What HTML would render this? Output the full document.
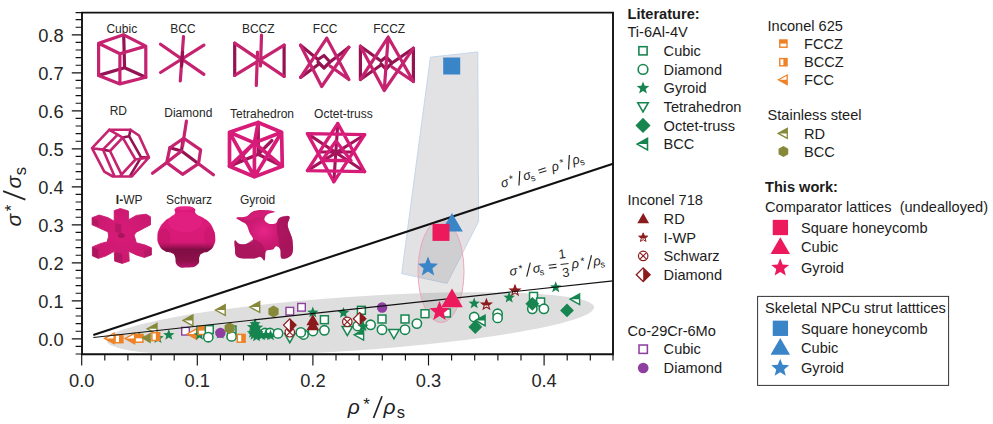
<!DOCTYPE html>
<html><head><meta charset="utf-8"><title>chart</title>
<style>
html,body{margin:0;padding:0;background:#fff;}
svg{display:block;font-family:"Liberation Sans",sans-serif;}
.tk{font-size:18.3px;fill:#262626;}
.lb{font-size:12px;fill:#262626;text-anchor:middle;}
.lg{font-size:14.6px;fill:#1c1c1c;}
.lgb{font-size:14.6px;fill:#1c1c1c;font-weight:bold;}
.ax{font-size:21px;font-style:italic;fill:#222;}
.fm{font-size:12px;font-style:italic;fill:#222;}
</style></head><body>
<svg width="993" height="424" viewBox="0 0 993 424">
<defs>
<g id="gsq"><rect x="-3.95" y="-3.95" width="7.9" height="7.9" fill="#fff" stroke="#16854f" stroke-width="1.5"/></g>
<g id="gci"><circle r="4.65" fill="#fff" stroke="#16854f" stroke-width="1.55"/></g>
<g id="gst"><polygon points="0.00,-6.00 1.52,-2.09 5.71,-1.85 2.45,0.80 3.53,4.85 0.00,2.58 -3.53,4.85 -2.45,0.80 -5.71,-1.85 -1.52,-2.09" fill="#16854f"/></g>
<g id="gtd"><polygon points="-5.3,-4.1 5.3,-4.1 0,5.1" fill="#fff" stroke="#16854f" stroke-width="1.5" stroke-linejoin="miter"/></g>
<g id="gdi"><polygon points="0,-6.9 6.9,0 0,6.9 -6.9,0" fill="#16854f"/></g>
<g id="gbc"><polygon points="-5.4,0 4.1,-5.3 4.1,5.3" fill="#fff"/><polygon points="-5.4,0 4.1,-5.3 4.1,0" fill="#16854f"/><polygon points="-5.4,0 4.1,-5.3 4.1,5.3" fill="none" stroke="#16854f" stroke-width="1.4"/></g>
<g id="ofz"><rect x="-3.9" y="-3.9" width="7.8" height="7.8" fill="#fff"/><rect x="-3.9" y="-3.9" width="7.8" height="3.9" fill="#ee8227"/><rect x="-3.9" y="-3.9" width="7.8" height="7.8" fill="none" stroke="#ee8227" stroke-width="1.5"/></g>
<g id="obz"><rect x="-3.9" y="-3.9" width="7.8" height="7.8" fill="#fff"/><rect x="0" y="-3.9" width="3.9" height="7.8" fill="#ee8227"/><rect x="-3.9" y="-3.9" width="7.8" height="7.8" fill="none" stroke="#ee8227" stroke-width="1.5"/></g>
<g id="ofc"><polygon points="-5.4,0 4.1,-5.2 4.1,5.2" fill="#fff"/><polygon points="-5.4,0 4.1,0 4.1,5.2" fill="#ee8227"/><polygon points="-5.4,0 4.1,-5.2 4.1,5.2" fill="none" stroke="#ee8227" stroke-width="1.4"/></g>
<g id="srd"><polygon points="-5.6,0 4.2,-5.4 4.2,5.4" fill="#fff"/><polygon points="-5.6,0 4.2,-5.4 4.2,0" fill="#87893a"/><polygon points="-5.6,0 4.2,-5.4 4.2,5.4" fill="none" stroke="#87893a" stroke-width="1.4"/></g>
<g id="sbc"><polygon points="0.00,-5.90 5.11,-2.95 5.11,2.95 0.00,5.90 -5.11,2.95 -5.11,-2.95" fill="#87893a"/></g>
<g id="psq"><rect x="-3.8" y="-3.8" width="7.6" height="7.6" fill="#fff" stroke="#8e3f9f" stroke-width="1.4"/></g>
<g id="pci"><circle r="5.2" fill="#8e3f9f"/></g>
<g id="rtr"><polygon points="0,-6.3 6.4,4.8 -6.4,4.8" fill="#8a1a1c"/></g>
<clipPath id="th"><rect x="-8" y="-8" width="16" height="8.9"/></clipPath>
<g id="rst"><polygon points="0.00,-5.40 1.35,-1.86 5.14,-1.67 2.19,0.71 3.17,4.37 0.00,2.30 -3.17,4.37 -2.19,0.71 -5.14,-1.67 -1.35,-1.86" fill="#fff" stroke="#8a1a1c" stroke-width="1.1"/><polygon points="0.00,-5.40 1.35,-1.86 5.14,-1.67 2.19,0.71 3.17,4.37 0.00,2.30 -3.17,4.37 -2.19,0.71 -5.14,-1.67 -1.35,-1.86" fill="#8a1a1c" clip-path="url(#th)"/></g>
<g id="rcx"><circle r="4.7" fill="#fff" stroke="#8a1a1c" stroke-width="1.2"/><path d="M-3.3,-3.3L3.3,3.3M-3.3,3.3L3.3,-3.3" stroke="#8a1a1c" stroke-width="1.1"/></g>
<g id="rdi"><polygon points="0,-6.2 6.3,0 0,6.2 -6.3,0" fill="#fff"/><polygon points="0,-6.2 6.3,0 0,6.2" fill="#8a1a1c"/><polygon points="0,-6.2 6.3,0 0,6.2 -6.3,0" fill="none" stroke="#8a1a1c" stroke-width="1.2"/></g>
<g id="ksq"><rect x="-8.5" y="-8.5" width="17" height="17" fill="#ec1a5d"/></g>
<g id="ktr"><polygon points="0,-11 10.8,7.6 -10.8,7.6" fill="#ec1a5d"/></g>
<g id="kst"><polygon points="0.00,-10.50 2.70,-3.72 9.99,-3.24 4.37,1.42 6.17,8.49 0.00,4.60 -6.17,8.49 -4.37,1.42 -9.99,-3.24 -2.70,-3.72" fill="#ec1a5d"/></g>
<g id="bsq"><rect x="-8.5" y="-8.5" width="17" height="17" fill="#3a84c8"/></g>
<g id="btr"><polygon points="0,-11 10.8,7.6 -10.8,7.6" fill="#3a84c8"/></g>
<g id="bst"><polygon points="0.00,-10.50 2.70,-3.72 9.99,-3.24 4.37,1.42 6.17,8.49 0.00,4.60 -6.17,8.49 -4.37,1.42 -9.99,-3.24 -2.70,-3.72" fill="#3a84c8"/></g>
<radialGradient id="gI" cx="0.5" cy="0.45" r="0.6"><stop offset="0" stop-color="#d81b78"/><stop offset="1" stop-color="#c8196e"/></radialGradient>
<linearGradient id="gS" x1="0" y1="0" x2="0" y2="1"><stop offset="0" stop-color="#dd1a7a"/><stop offset="0.58" stop-color="#d81a77"/><stop offset="0.64" stop-color="#b01360"/><stop offset="0.70" stop-color="#800e44"/><stop offset="0.88" stop-color="#8c1049"/><stop offset="1" stop-color="#b5166a"/></linearGradient>
<radialGradient id="gG" cx="0.5" cy="0.42" r="0.45"><stop offset="0" stop-color="#e8258a"/><stop offset="0.5" stop-color="#cf1b74"/><stop offset="1" stop-color="#bd1768"/></radialGradient>
<clipPath id="cp"><rect x="82.0" y="12.6" width="531.0" height="341.7"/></clipPath>
</defs>
<rect width="993" height="424" fill="#fff"/>
<g clip-path="url(#cp)">
<ellipse cx="350.4" cy="323.9" rx="244.3" ry="27" transform="rotate(-3.94 350.4 323.9)" fill="#dedede"/>
<polygon points="430.4,57.2 477.8,51.9 478.6,221.5 447,283.4 401.7,273.6" fill="#e2e2e4" stroke="#bfd4eb" stroke-width="0.9"/>
<ellipse cx="441" cy="271.3" rx="23" ry="51.3" fill="#8c8c8c" fill-opacity="0.22" stroke="#f0a3b8" stroke-width="1"/>
</g>
<!-- lattices -->
<path stroke="#951352" stroke-width="3.2" stroke-linecap="round" stroke-linejoin="round" fill="none" d="M123.7,34.8L124.6,67.8M98.6,75.4L124.6,67.8L145.8,77.3"/>
<path stroke="#c5226f" stroke-width="3.2" stroke-linecap="round" stroke-linejoin="round" fill="none" d="M123.7,34.8L98.6,43.3L119.9,53.7L145.8,46.1ZM98.6,43.3V75.4L119.9,83.9L145.8,77.3V46.1M119.9,53.7V83.9"/>
<path stroke="#c5226f" stroke-width="3.2" stroke-linecap="round" stroke-linejoin="round" fill="none" d="M183.5,36.7L180.3,81M160.5,44.2L203.9,74.4M203.9,45.2L160.5,72.5"/>
<path stroke="#951352" stroke-width="3.2" stroke-linecap="round" stroke-linejoin="round" fill="none" d="M182.6,52L181.6,66" stroke-width="3"/>
<path stroke="#951352" stroke-width="3.2" stroke-linecap="round" stroke-linejoin="round" fill="none" d="M234.7,43.2V75.4M284.1,45.2V76.4"/>
<path stroke="#c5226f" stroke-width="3.2" stroke-linecap="round" stroke-linejoin="round" fill="none" d="M234.7,43.2L284.1,76.4M234.7,75.4L284.1,45.2M261.5,35.1L260.5,66M257.5,52L256.3,85.5"/>
<path stroke="#951352" stroke-width="3.2" stroke-linecap="round" stroke-linejoin="round" fill="none" d="M300.6,45.2L318,59.5L324,55.5L330,62M300.6,77.4L319,64M348.9,47.2L330,62L324,68L318,62"/>
<path stroke="#c5226f" stroke-width="3.2" stroke-linecap="round" stroke-linejoin="round" fill="none" d="M326.8,38.2L300.6,77.4M326.8,38.2L348.9,79.5M321.7,86.5L300.6,45.2M321.7,86.5L348.9,47.2M348.9,79.5L330,66"/>
<path stroke="#951352" stroke-width="3.2" stroke-linecap="round" stroke-linejoin="round" fill="none" d="M360.4,46.2V79.5M413.4,48.2V81.5M360.4,46.2L381,61L386,57L392,63M360.4,79.5L381,65M413.4,48.2L392,63L386,69L381,64"/>
<path stroke="#c5226f" stroke-width="3.2" stroke-linecap="round" stroke-linejoin="round" fill="none" d="M388.2,37.2L360.4,79.5M388.2,37.2L413.4,81.5M384.2,90.5L360.4,46.2M384.2,90.5L413.4,48.2M413.4,81.5L392,67M388.2,37.2L384.2,90.5"/>
<path stroke="#951352" stroke-width="2.6" stroke-linecap="round" stroke-linejoin="round" fill="none" d="M130.5,129.8L129.1,136.2L141.1,157.4L148.9,157.4M129.1,136.2L122.7,137.6M141.1,157.4L130.5,175.1M110.0,151.0L102.9,149.6"/>
<path stroke="#c5226f" stroke-width="2.6" stroke-linecap="round" stroke-linejoin="round" fill="none" d="M109.2,129.8L130.5,129.8L139.0,135.5L148.9,157.4L131.9,176.5L112.8,176.5L104.3,171.6L92.0,148.2L109.2,129.8M92.0,148.2L102.9,149.6L117.7,134.7L109.2,129.8M102.9,149.6L114.2,175.5M117.7,134.7L122.7,137.6L135.5,159.5L148.9,157.4M135.5,159.5L120.3,175.8M122.7,137.6L110.0,151.0L121.3,174.1"/>
<path stroke="#951352" stroke-width="3.2" stroke-linecap="round" stroke-linejoin="round" fill="none" d="M169.9,147.7L181.5,151L198.5,163.7M181.5,151L183,139"/>
<path stroke="#c5226f" stroke-width="3.2" stroke-linecap="round" stroke-linejoin="round" fill="none" d="M186.4,121.2L182.6,146M169.9,147.7L183.7,138.2L200.6,149.9L198.5,163.7L182.6,174.3L166.7,162.6ZM166.7,162.6L152.5,173.2M198.5,163.7L213.4,174.7M166.7,162.6L181.5,151"/>
<path stroke="#a3145a" stroke-width="3.4" stroke-linecap="round" stroke-linejoin="round" fill="none" d="M258.2,122.5L258.2,154.2L229.5,166.3M258.2,154.2L282.3,166.3M258.2,154.2L271.8,140.6M237.1,161.0L254.4,142.9"/>
<path stroke="#d61b79" stroke-width="3.7" stroke-linecap="round" stroke-linejoin="round" fill="none" d="M258.2,122.5L281.6,132.3L282.3,166.3L254.4,176.8L229.5,166.3L229.5,132.3L258.2,122.5M229.5,132.3L254.4,142.9L281.6,132.3M254.4,142.9L254.4,176.8M229.5,132.3L254.4,176.8L281.6,132.3M229.5,166.3L254.4,142.9L282.3,166.3M258.2,122.5L254.4,142.9"/>
<path stroke="#a3145a" stroke-width="3.1" stroke-linecap="round" stroke-linejoin="round" fill="none" d="M307.4,133.6L364.7,171.7M364.7,134.7L307.4,170.6M337.8,123.5L333.8,181.8M320,152H352"/>
<path stroke="#d61b79" stroke-width="3.3" stroke-linecap="round" stroke-linejoin="round" fill="none" d="M337.8,123.5L307.4,170.6L364.7,171.7ZM333.8,181.8L307.4,133.6L364.7,134.7ZM322,160.5H351L336,141Z"/>
<polygon points="114.2,210.6 120.4,208.5 128.4,211.0 128.7,219.8 136.3,215.4 146.1,214.2 150.5,216.8 150.5,224.8 142.0,229.2 135.8,232.4 134.2,235.4 136.3,242.8 145.2,245.1 151.4,247.8 151.4,254.9 144.3,257.5 136.3,254.9 128.7,251.3 129.2,261.1 122.2,263.4 114.7,261.1 114.2,251.3 106.2,255.8 98.3,258.4 92.4,255.8 92.4,246.9 100.9,243.4 107.1,241.9 108.7,236.1 108.0,231.9 100.0,228.3 92.1,224.8 92.1,217.7 99.2,215.0 108.0,217.7 114.2,221.2" fill="url(#gI)" stroke="#cb1a70" stroke-width="0.9" stroke-linejoin="round"/>
<polygon points="92.4,246.9 98.3,249.6 98.3,258.4 92.4,255.8" fill="#951352" fill-opacity="0.55"/>
<polygon points="114.7,252.2 122.2,254.0 122.2,263.4 114.7,261.1" fill="#951352" fill-opacity="0.5"/>
<polygon points="92.1,217.7 98.3,220.4 98.8,226.5 92.1,224.8" fill="#951352" fill-opacity="0.4"/>
<polygon points="115.1,223.0 121.3,224.8 121.3,233.6 115.1,231.9" fill="#951352" fill-opacity="0.45"/>
<polygon points="144.3,250.4 151.4,247.8 151.4,254.9 144.3,257.5" fill="#951352" fill-opacity="0.35"/>
<ellipse cx="121.3" cy="235.4" rx="3.5" ry="2.5" fill="#951352" fill-opacity="0.7"/>
<path d="M175.4,208.5C177.9,206.6 179.3,206.5 184.3,206.5C189.3,206.4 191.1,206.3 194.1,208.2C197.2,210.1 193.5,211.0 195.8,213.6C198.2,216.2 199.5,215.6 203.0,217.8C206.5,220.1 206.2,219.1 208.9,222.1C211.6,225.0 211.5,225.0 213.2,228.9C214.8,232.7 215.0,232.2 215.2,236.5C215.4,240.8 215.7,241.2 214.0,245.0C212.3,248.9 211.9,248.8 208.9,251.0C206.0,253.1 205.5,251.6 203.0,253.0C200.5,254.5 201.0,253.3 199.6,256.4C198.1,259.5 200.7,261.6 197.5,264.6C194.4,267.6 193.0,267.4 187.7,267.6C182.3,267.8 180.9,268.4 177.5,265.4C174.1,262.4 176.5,259.7 174.9,256.4C173.4,253.1 174.3,254.5 171.5,253.0C168.8,251.6 168.0,253.1 164.7,251.0C161.4,248.8 161.1,248.9 159.1,245.0C157.2,241.2 157.3,241.1 157.4,236.5C157.6,232.0 157.7,232.1 159.6,228.0C161.6,224.0 161.8,224.2 164.7,221.2C167.7,218.3 168.0,219.0 170.7,217.0C173.4,215.0 173.7,215.9 174.9,213.6C176.2,211.3 173.0,210.4 175.4,208.5Z" fill="url(#gS)"/>
<ellipse cx="164.2" cy="237.7" rx="6.3" ry="9.5" fill="#b5125f" fill-opacity="0.35"/>
<ellipse cx="209.4" cy="236.5" rx="5.5" ry="10" fill="#b5125f" fill-opacity="0.3"/>
<ellipse cx="185.1" cy="222.1" rx="17" ry="10" fill="#ee2a8e" fill-opacity="0.35"/>
<ellipse cx="184.6" cy="208.2" rx="9" ry="2" fill="#ee2a8e" fill-opacity="0.7"/>
<path d="M236.5,217.8C237.5,216.9 243.6,217.6 246.4,216.5C249.3,215.4 249.5,213.1 252.2,211.9C254.9,210.7 257.2,210.0 261.3,209.9C265.4,209.8 273.3,210.8 274.5,211.5C275.7,212.3 269.7,212.8 267.9,214.0C266.1,215.2 265.0,216.8 264.6,218.1C264.1,219.5 264.4,220.4 265.4,221.4C266.5,222.5 268.4,223.6 270.4,223.9C272.3,224.2 274.5,224.2 276.1,223.1C277.8,222.0 277.0,219.4 279.4,218.1C281.9,216.9 287.8,215.3 289.3,216.5C290.8,217.7 287.5,221.7 287.7,224.7C287.8,227.8 289.2,230.0 290.2,233.0C291.1,236.0 292.3,237.3 292.6,241.2C292.9,245.2 293.8,251.3 291.8,254.4C289.8,257.6 284.0,259.5 281.9,258.6C279.8,257.6 281.3,251.8 280.3,249.5C279.2,247.2 277.5,246.2 276.1,246.2C274.8,246.2 274.6,248.6 272.8,249.5C271.0,250.4 267.7,249.2 266.2,251.1C264.7,253.1 265.6,259.1 264.6,260.2C263.5,261.3 262.6,257.2 260.5,256.9C258.3,256.6 257.3,258.6 253.0,258.6C248.8,258.6 240.7,258.9 237.4,256.9C234.0,254.9 235.4,250.9 234.9,247.8C234.4,244.8 234.1,241.2 234.9,240.4C235.7,239.7 236.9,243.1 239.0,243.7C241.1,244.3 243.9,244.5 246.4,243.7C249.0,243.0 252.4,241.6 253.0,239.6C253.6,237.6 251.0,235.7 249.7,233.0C248.5,230.3 248.0,226.9 246.4,224.7C244.9,222.6 243.3,222.7 241.5,221.4C239.7,220.2 235.6,218.7 236.5,217.8Z" fill="url(#gG)"/>
<path d="M279.4,218.1C281.7,215.7 287.8,215.3 289.3,216.5C290.8,217.7 287.5,221.7 287.7,224.7C287.8,227.8 289.2,230.0 290.2,233.0C291.1,236.0 292.3,237.3 292.6,241.2C292.9,245.2 293.8,251.3 291.8,254.4C289.8,257.6 284.0,259.5 281.9,258.6C279.8,257.6 280.9,253.0 280.3,249.5C279.7,246.0 279.2,243.2 278.6,239.6C278.0,236.0 276.8,233.6 277.0,229.7C277.1,225.8 277.2,220.6 279.4,218.1Z" fill="#951352" fill-opacity="0.55"/>
<path d="M234.9,240.4C235.7,239.7 236.9,243.1 239.0,243.7C241.1,244.3 243.9,244.5 246.4,243.7C249.0,243.0 250.5,239.7 253.0,239.6C255.6,239.4 258.3,241.1 260.5,242.9C262.6,244.7 263.8,246.3 264.6,249.5C265.3,252.7 265.3,258.8 264.6,260.2C263.8,261.6 262.6,257.2 260.5,256.9C258.3,256.6 257.3,258.6 253.0,258.6C248.8,258.6 240.7,258.9 237.4,256.9C234.0,254.9 235.4,250.9 234.9,247.8C234.4,244.8 234.1,241.2 234.9,240.4Z" fill="#951352" fill-opacity="0.45"/>
<path d="M236.5,217.8C236.2,217.1 243.6,217.6 246.4,216.5C249.3,215.4 249.5,213.1 252.2,211.9C254.9,210.7 257.2,210.0 261.3,209.9C265.4,209.8 273.3,210.8 274.5,211.5C275.7,212.3 269.9,213.1 267.9,214.0C265.9,214.9 266.2,215.7 263.8,216.5C261.3,217.3 257.6,217.4 254.7,218.1C251.8,218.9 251.4,220.7 248.1,220.6C244.8,220.6 236.8,218.6 236.5,217.8Z" fill="#e0207e" fill-opacity="0.5"/>
<!-- markers -->
<use href="#gst" x="139.2" y="337.6"/>
<use href="#gst" x="158.0" y="338.2"/>
<use href="#gst" x="168.8" y="335.0"/>
<use href="#ofc" x="110.0" y="338.4"/>
<use href="#obz" x="119.0" y="338.8"/>
<use href="#ofc" x="130.5" y="338.5"/>
<use href="#ofz" x="139.0" y="338.3"/>
<polygon points="141.3,338 150.8,332.6 150.8,343.5" fill="#87893a"/>
<use href="#srd" x="152.8" y="328.8"/>
<use href="#obz" x="155.8" y="336.6"/>
<use href="#srd" x="188.7" y="320.4"/>
<use href="#srd" x="221.0" y="310.0"/>
<use href="#srd" x="255.5" y="307.0"/>
<use href="#psq" x="185.5" y="331.2"/>
<use href="#ofc" x="192.6" y="334.0"/>
<use href="#gsq" x="201.0" y="330.3"/>
<use href="#gst" x="199.5" y="335.0"/>
<use href="#ofz" x="202.1" y="330.6"/>
<use href="#gsq" x="209.3" y="329.6"/>
<use href="#gci" x="208.3" y="337.2"/>
<use href="#gst" x="220.2" y="333.6"/>
<use href="#gsq" x="232.0" y="330.0"/>
<use href="#gci" x="231.6" y="336.4"/>
<use href="#pci" x="220.4" y="332.9"/>
<use href="#sbc" x="229.7" y="328.2"/>
<use href="#obz" x="241.2" y="338.3"/>
<use href="#gci" x="265.0" y="333.0"/>
<use href="#gci" x="270.0" y="333.0"/>
<use href="#gst" x="255.0" y="324.0"/>
<use href="#gst" x="254.5" y="328.0"/>
<use href="#gst" x="255.5" y="331.0"/>
<use href="#gst" x="254.0" y="335.0"/>
<use href="#gst" x="256.5" y="336.5"/>
<use href="#gst" x="261.5" y="335.5"/>
<use href="#gst" x="266.0" y="335.0"/>
<use href="#gst" x="270.5" y="335.5"/>
<use href="#gst" x="252.5" y="327.0"/>
<use href="#gst" x="257.5" y="327.5"/>
<use href="#gst" x="252.5" y="333.0"/>
<use href="#gst" x="258.0" y="333.0"/>
<use href="#gci" x="278.0" y="333.4"/>
<use href="#sbc" x="273.5" y="311.5"/>
<use href="#psq" x="289.8" y="311.2"/>
<use href="#psq" x="301.5" y="307.3"/>
<use href="#gtd" x="289.8" y="337.6"/>
<use href="#rcx" x="289.8" y="332.3"/>
<use href="#rdi" x="289.8" y="325.1"/>
<use href="#gst" x="312.8" y="312.5"/>
<use href="#gci" x="303.6" y="334.5"/>
<use href="#gci" x="300.8" y="332.4"/>
<use href="#gci" x="313.0" y="331.0"/>
<use href="#gsq" x="324.4" y="319.7"/>
<use href="#gci" x="324.4" y="330.3"/>
<use href="#rtr" x="312.8" y="325.5"/>
<use href="#rtr" x="312.8" y="320.5"/>
<use href="#gst" x="343.5" y="312.9"/>
<use href="#gsq" x="361.4" y="310.3"/>
<use href="#pci" x="382.1" y="307.5"/>
<use href="#gtd" x="347.3" y="330.5"/>
<use href="#gci" x="357.6" y="326.0"/>
<use href="#rcx" x="347.3" y="321.8"/>
<use href="#rdi" x="359.6" y="318.7"/>
<use href="#gci" x="370.6" y="324.8"/>
<use href="#gst" x="363.0" y="326.5"/>
<use href="#gbc" x="359.5" y="334.8"/>
<use href="#gsq" x="382.0" y="319.0"/>
<use href="#gci" x="382.0" y="329.7"/>
<use href="#gtd" x="393.9" y="333.7"/>
<use href="#gsq" x="405.0" y="319.0"/>
<use href="#gci" x="405.0" y="329.7"/>
<use href="#gci" x="416.9" y="323.6"/>
<use href="#gsq" x="425.0" y="313.7"/>
<use href="#gsq" x="446.4" y="313.0"/>
<use href="#gst" x="474.2" y="303.5"/>
<use href="#rst" x="486.4" y="304.7"/>
<use href="#gst" x="509.2" y="297.6"/>
<use href="#rst" x="515.0" y="290.6"/>
<use href="#gci" x="474.2" y="317.0"/>
<use href="#gdi" x="475.3" y="327.0"/>
<use href="#gbc" x="481.0" y="320.4"/>
<use href="#gci" x="497.6" y="313.8"/>
<use href="#gci" x="497.6" y="317.9"/>
<use href="#gst" x="555.7" y="287.3"/>
<use href="#gsq" x="533.5" y="296.4"/>
<use href="#gsq" x="540.6" y="302.0"/>
<use href="#gci" x="532.3" y="308.8"/>
<use href="#gci" x="543.9" y="308.8"/>
<use href="#gdi" x="532.3" y="303.8"/>
<use href="#gdi" x="567.0" y="310.4"/>
<use href="#gbc" x="575.5" y="299.2"/>
<!-- lines -->
<path d="M93.3,335.0L613.0,163.7" stroke="#111" stroke-width="2.1" fill="none"/>
<path d="M93.3,337.5L613.0,280.8" stroke="#111" stroke-width="1.2" fill="none"/>
<use href="#kst" x="439.5" y="311.5"/>
<use href="#ktr" x="452.0" y="299.6"/>
<use href="#bst" x="428.0" y="267.0"/>
<use href="#btr" x="452.0" y="224.0"/>
<use href="#ksq" x="441.0" y="232.4"/>
<use href="#bsq" x="451.7" y="66.0"/>
<!-- axes -->
<path d="M82.0,12.6H613.0V354.3H82.0Z" fill="none" stroke="#111" stroke-width="1.9"/>
<path d="M81.7,354.3V365.5M104.8,354.3V360.5M127.9,354.3V360.5M151.1,354.3V360.5M174.2,354.3V360.5M197.3,354.3V365.5M220.4,354.3V360.5M243.5,354.3V360.5M266.7,354.3V360.5M289.8,354.3V360.5M312.9,354.3V365.5M336.0,354.3V360.5M359.1,354.3V360.5M382.3,354.3V360.5M405.4,354.3V360.5M428.5,354.3V365.5M451.6,354.3V360.5M474.7,354.3V360.5M497.9,354.3V360.5M521.0,354.3V360.5M544.1,354.3V365.5M567.2,354.3V360.5M590.3,354.3V360.5M613.0,354.3V360.5M82.0,354.0H75.6M82.0,346.4H75.6M82.0,338.8H71.8M82.0,331.2H75.6M82.0,323.6H75.6M82.0,316.0H75.6M82.0,308.4H75.6M82.0,300.8H71.8M82.0,293.2H75.6M82.0,285.6H75.6M82.0,278.0H75.6M82.0,270.4H75.6M82.0,262.8H71.8M82.0,255.2H75.6M82.0,247.6H75.6M82.0,240.0H75.6M82.0,232.4H75.6M82.0,224.8H71.8M82.0,217.2H75.6M82.0,209.6H75.6M82.0,202.0H75.6M82.0,194.4H75.6M82.0,186.8H71.8M82.0,179.2H75.6M82.0,171.6H75.6M82.0,164.0H75.6M82.0,156.4H75.6M82.0,148.8H71.8M82.0,141.2H75.6M82.0,133.6H75.6M82.0,126.0H75.6M82.0,118.4H75.6M82.0,110.8H71.8M82.0,103.2H75.6M82.0,95.6H75.6M82.0,88.0H75.6M82.0,80.4H75.6M82.0,72.8H71.8M82.0,65.2H75.6M82.0,57.6H75.6M82.0,50.0H75.6M82.0,42.4H75.6M82.0,34.8H71.8M82.0,27.2H75.6M82.0,19.6H75.6M82.0,12.6H75.6" stroke="#111" stroke-width="1.15" fill="none"/>
<text x="81.7" y="386.5" text-anchor="middle" class="tk">0.0</text><text x="197.3" y="386.5" text-anchor="middle" class="tk">0.1</text><text x="312.9" y="386.5" text-anchor="middle" class="tk">0.2</text><text x="428.5" y="386.5" text-anchor="middle" class="tk">0.3</text><text x="544.1" y="386.5" text-anchor="middle" class="tk">0.4</text>
<text x="63.6" y="345.8" text-anchor="end" class="tk">0.0</text><text x="63.6" y="307.8" text-anchor="end" class="tk">0.1</text><text x="63.6" y="269.8" text-anchor="end" class="tk">0.2</text><text x="63.6" y="231.8" text-anchor="end" class="tk">0.3</text><text x="63.6" y="193.8" text-anchor="end" class="tk">0.4</text><text x="63.6" y="155.8" text-anchor="end" class="tk">0.5</text><text x="63.6" y="117.8" text-anchor="end" class="tk">0.6</text><text x="63.6" y="79.8" text-anchor="end" class="tk">0.7</text><text x="63.6" y="41.8" text-anchor="end" class="tk">0.8</text>
<g id="xl" transform="translate(347.8,413.5)" fill="#222">
<text class="ax" x="0" y="0">ρ</text>
<text x="15.4" y="-4" font-size="17">*</text>
<path d="M25.7,4.5L34.2,-17.3" stroke="#222" stroke-width="1.7" fill="none"/>
<text class="ax" x="35.7" y="0">ρ</text>
<text x="48.9" y="4.6" font-size="16.5">s</text>
</g>
<g id="yl" transform="translate(20.9,226.6) rotate(-90)" fill="#222">
<text class="ax" x="0" y="0">σ</text>
<text x="15.4" y="-4" font-size="17">*</text>
<path d="M27,4.5L35.5,-17.8" stroke="#222" stroke-width="1.7" fill="none"/>
<text class="ax" x="38.1" y="0">σ</text>
<text x="51.4" y="5.2" font-size="16.5">s</text>
</g>
<!-- lattice labels -->
<text class="lb" x="121.8" y="33">Cubic</text>
<text class="lb" x="183" y="33">BCC</text>
<text class="lb" x="258.3" y="33">BCCZ</text>
<text class="lb" x="325.2" y="33">FCC</text>
<text class="lb" x="389.2" y="33">FCCZ</text>
<text class="lb" x="118.3" y="115">RD</text>
<text class="lb" x="188.3" y="117">Diamond</text>
<text class="lb" x="262" y="117.5">Tetrahedron</text>
<text class="lb" x="343.4" y="117.5">Octet-truss</text>
<text class="lb" x="129.2" y="203.7"><tspan font-weight="bold">I-</tspan>WP</text>
<text class="lb" x="189" y="203.7">Schwarz</text>
<text class="lb" x="257.6" y="203.7">Gyroid</text>
<!-- formulas -->
<g transform="translate(502.3,187.9) rotate(-17.8) scale(0.615)" fill="#222"><text class="ax" x="0.0" y="0">σ</text><text x="15.4" y="-4" font-size="17">*</text><path d="M27.0,4.5L35.5,-17.5" stroke="#222" stroke-width="1.9" fill="none"/><text class="ax" x="38.1" y="0">σ</text><text x="48.8" y="5.2" font-size="15">s</text><path d="M64.5,-9.6H77M64.5,-4.6H77" stroke="#222" stroke-width="1.7"/><text class="ax" x="86.0" y="0">ρ</text><text x="101.4" y="-4" font-size="17">*</text><path d="M111.7,4.5L120.2,-17.5" stroke="#222" stroke-width="1.9" fill="none"/><text class="ax" x="121.7" y="0">ρ</text><text x="132.9" y="4.6" font-size="15">s</text></g>
<g transform="translate(509.9,275.8) rotate(-6.8) scale(0.615)" fill="#222"><text class="ax" x="0.0" y="0">σ</text><text x="15.4" y="-4" font-size="17">*</text><path d="M27.0,4.5L35.5,-17.5" stroke="#222" stroke-width="1.9" fill="none"/><text class="ax" x="38.1" y="0">σ</text><text x="48.8" y="5.2" font-size="15">s</text><path d="M64.5,-9.6H77M64.5,-4.6H77" stroke="#222" stroke-width="1.7"/><text x="88.5" y="-18" font-size="21" text-anchor="middle">1</text><path d="M84,-8.5H97" stroke="#222" stroke-width="1.5"/><text x="91" y="12.5" font-size="21" text-anchor="middle">3</text><text class="ax" x="101.5" y="0">ρ</text><text x="116.9" y="-4" font-size="17">*</text><path d="M127.2,4.5L135.7,-17.5" stroke="#222" stroke-width="1.9" fill="none"/><text class="ax" x="137.2" y="0">ρ</text><text x="148.4" y="4.6" font-size="15">s</text></g>
<!-- legend -->
<text class="lgb" x="627.5" y="18.5">Literature:</text>
<text class="lg" x="627.5" y="36.5">Ti-6Al-4V</text>
<use href="#gsq" transform="translate(643.0,50.8) scale(1.04)"/>
<text class="lg" x="663.6" y="56.0">Cubic</text>
<use href="#gci" transform="translate(643.0,69.4) scale(1.04)"/>
<text class="lg" x="663.6" y="74.6">Diamond</text>
<use href="#gst" transform="translate(643.0,88.1) scale(1.1)"/>
<text class="lg" x="663.6" y="93.3">Gyroid</text>
<use href="#gtd" transform="translate(643.0,106.8) scale(1.0)"/>
<text class="lg" x="663.6" y="112.0">Tetrahedron</text>
<use href="#gdi" transform="translate(643.0,125.4) scale(1.1)"/>
<text class="lg" x="663.6" y="130.6">Octet-truss</text>
<use href="#gbc" transform="translate(643.0,144.1) scale(1.1)"/>
<text class="lg" x="663.6" y="149.2">BCC</text>
<text class="lg" x="767.5" y="31">Inconel 625</text>
<use href="#ofz" transform="translate(783.4,43.6) scale(0.93)"/>
<text class="lg" x="804" y="48.8">FCCZ</text>
<use href="#obz" transform="translate(783.4,62.2) scale(0.93)"/>
<text class="lg" x="804" y="67.4">BCCZ</text>
<use href="#ofc" transform="translate(783.4,79.8) scale(0.92)"/>
<text class="lg" x="804" y="85.0">FCC</text>
<text class="lg" x="767.5" y="119.6">Stainless steel</text>
<use href="#srd" transform="translate(783.4,133.4) scale(0.92)"/>
<text class="lg" x="804" y="138.6">RD</text>
<use href="#sbc" transform="translate(783.4,151.5) scale(0.95)"/>
<text class="lg" x="804" y="156.7">BCC</text>
<text class="lg" x="627.5" y="205.4">Inconel 718</text>
<use href="#rtr" transform="translate(643.2,218.8) scale(0.92)"/>
<text class="lg" x="663.6" y="224.0">RD</text>
<use href="#rst" transform="translate(643.2,237.6) scale(0.88)"/>
<text class="lg" x="663.6" y="242.8">I-WP</text>
<use href="#rcx" transform="translate(643.2,255.9) scale(1.0)"/>
<text class="lg" x="663.6" y="261.1">Schwarz</text>
<use href="#rdi" transform="translate(643.2,274.7) scale(1.1)"/>
<text class="lg" x="663.6" y="279.9">Diamond</text>
<text class="lg" x="627.5" y="335.6">Co-29Cr-6Mo</text>
<use href="#psq" transform="translate(643.2,349.2) scale(1.1)"/>
<text class="lg" x="663.6" y="354.4">Cubic</text>
<use href="#pci" transform="translate(643.2,368.0) scale(1.03)"/>
<text class="lg" x="663.6" y="373.2">Diamond</text>
<text class="lgb" x="765" y="191.8">This work:</text>
<text class="lg" x="765" y="212.4">Comparator lattices&#160; (undealloyed)</text>
<use href="#ksq" transform="translate(780.4,227.5) scale(0.9)"/>
<text class="lg" x="801" y="232.7">Square honeycomb</text>
<use href="#ktr" transform="translate(780.3,247.2) scale(0.9)"/>
<text class="lg" x="801" y="252.4">Cubic</text>
<use href="#kst" transform="translate(780.2,267.8) scale(0.9)"/>
<text class="lg" x="801" y="273.0">Gyroid</text>
<rect x="757.6" y="296.4" width="191" height="89" fill="none" stroke="#333" stroke-width="1"/>
<text class="lg" x="765" y="313.3">Skeletal NPCu strut latttices</text>
<use href="#bsq" transform="translate(780.4,328.3) scale(0.9)"/>
<text class="lg" x="801" y="333.5">Square honeycomb</text>
<use href="#btr" transform="translate(780.3,347.8) scale(0.9)"/>
<text class="lg" x="801" y="353.0">Cubic</text>
<use href="#bst" transform="translate(780.2,368.2) scale(0.9)"/>
<text class="lg" x="801" y="373.4">Gyroid</text>
</svg>
</body></html>
